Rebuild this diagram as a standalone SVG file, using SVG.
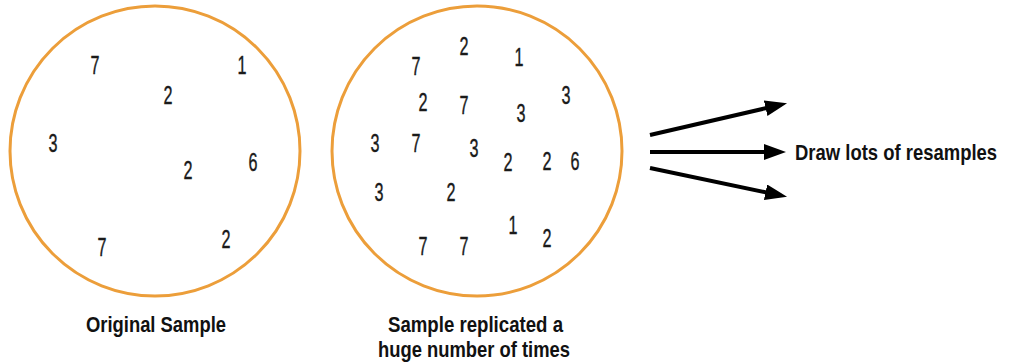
<svg xmlns="http://www.w3.org/2000/svg" width="1009" height="363" viewBox="0 0 1009 363">
<style>
.circ{fill:#fff;stroke:#EC9E3A;stroke-width:3}
.d{font-family:"Liberation Sans",Arial,sans-serif;font-size:26px;fill:#1a1a1a;text-anchor:middle;stroke:#1a1a1a;stroke-width:0.4}
.lbl{font-family:"Liberation Sans",Arial,sans-serif;font-size:22px;font-weight:bold;fill:#111}
.arr{stroke:#000;stroke-width:4;fill:none}
</style>
<defs>
<marker id="ah" markerUnits="userSpaceOnUse" markerWidth="24" markerHeight="18" refX="1" refY="8" orient="auto">
<path d="M0,0 L22,8 L0,16 z" fill="#000"/>
</marker>
</defs>
<rect width="1009" height="363" fill="#fff"/>
<g id="original-sample">
<circle class="circ" cx="155" cy="151" r="145"/>
<text class="d" x="95" y="74" textLength="9" lengthAdjust="spacingAndGlyphs">7</text>
<text class="d" x="242" y="74" textLength="9" lengthAdjust="spacingAndGlyphs">1</text>
<text class="d" x="168" y="104" textLength="9" lengthAdjust="spacingAndGlyphs">2</text>
<text class="d" x="53" y="152" textLength="9" lengthAdjust="spacingAndGlyphs">3</text>
<text class="d" x="188" y="179" textLength="9" lengthAdjust="spacingAndGlyphs">2</text>
<text class="d" x="253" y="171" textLength="9" lengthAdjust="spacingAndGlyphs">6</text>
<text class="d" x="102" y="256" textLength="9" lengthAdjust="spacingAndGlyphs">7</text>
<text class="d" x="226" y="248" textLength="9" lengthAdjust="spacingAndGlyphs">2</text>
<text class="lbl" x="86" y="332" textLength="140" lengthAdjust="spacingAndGlyphs">Original Sample</text>
</g>
<g id="replicated-sample">
<circle class="circ" cx="477" cy="151" r="145"/>
<text class="d" x="464" y="55" textLength="9" lengthAdjust="spacingAndGlyphs">2</text>
<text class="d" x="519" y="66" textLength="9" lengthAdjust="spacingAndGlyphs">1</text>
<text class="d" x="416" y="75" textLength="9" lengthAdjust="spacingAndGlyphs">7</text>
<text class="d" x="566" y="104" textLength="9" lengthAdjust="spacingAndGlyphs">3</text>
<text class="d" x="423" y="111" textLength="9" lengthAdjust="spacingAndGlyphs">2</text>
<text class="d" x="464" y="114" textLength="9" lengthAdjust="spacingAndGlyphs">7</text>
<text class="d" x="521" y="122" textLength="9" lengthAdjust="spacingAndGlyphs">3</text>
<text class="d" x="375" y="152" textLength="9" lengthAdjust="spacingAndGlyphs">3</text>
<text class="d" x="416" y="152" textLength="9" lengthAdjust="spacingAndGlyphs">7</text>
<text class="d" x="474" y="157" textLength="9" lengthAdjust="spacingAndGlyphs">3</text>
<text class="d" x="508" y="171" textLength="9" lengthAdjust="spacingAndGlyphs">2</text>
<text class="d" x="547" y="170" textLength="9" lengthAdjust="spacingAndGlyphs">2</text>
<text class="d" x="575" y="170" textLength="9" lengthAdjust="spacingAndGlyphs">6</text>
<text class="d" x="379" y="201" textLength="9" lengthAdjust="spacingAndGlyphs">3</text>
<text class="d" x="451" y="201" textLength="9" lengthAdjust="spacingAndGlyphs">2</text>
<text class="d" x="513" y="234" textLength="9" lengthAdjust="spacingAndGlyphs">1</text>
<text class="d" x="547" y="247" textLength="9" lengthAdjust="spacingAndGlyphs">2</text>
<text class="d" x="423" y="255" textLength="9" lengthAdjust="spacingAndGlyphs">7</text>
<text class="d" x="464" y="255" textLength="9" lengthAdjust="spacingAndGlyphs">7</text>
<text class="lbl" x="388" y="332" textLength="175" lengthAdjust="spacingAndGlyphs">Sample replicated a</text>
<text class="lbl" x="378" y="357" textLength="192" lengthAdjust="spacingAndGlyphs">huge number of times</text>
</g>
<g id="connectors">
<line class="arr" x1="650" y1="135" x2="766.6" y2="108" marker-end="url(#ah)"/>
<line class="arr" x1="650" y1="152" x2="765" y2="152" marker-end="url(#ah)"/>
<line class="arr" x1="650" y1="168" x2="766.5" y2="192.5" marker-end="url(#ah)"/>
</g>
<g id="resamples-label">
<text class="lbl" transform="translate(795,160) scale(0.84,1)" x="0" y="0">Draw lots of resamples</text>
</g>
</svg>
